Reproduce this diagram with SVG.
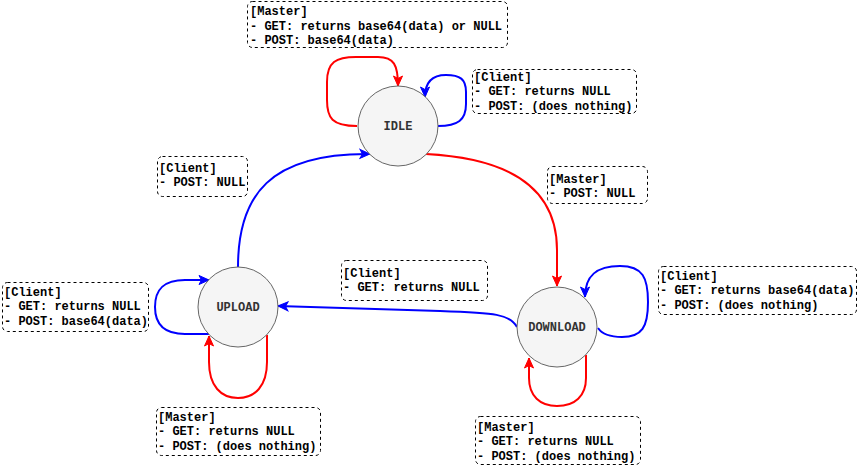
<svg xmlns="http://www.w3.org/2000/svg" width="858" height="466" viewBox="0 0 858 466">
<style>
.bg{fill:#ffffff}
.state{fill:#f5f5f5;stroke:#666666;stroke-width:1}
.slabel{font-family:"Liberation Mono","Courier New",monospace;font-weight:bold;font-size:12px;fill:#333333;text-anchor:middle}
.note{fill:#ffffff;stroke:#000000;stroke-width:1;stroke-dasharray:3 3}
.ntext{font-family:"Liberation Mono","Courier New",monospace;font-weight:bold;font-size:12px;fill:#000000}
.red{fill:none;stroke:#ff0000;stroke-width:2;marker-end:url(#ar)}
.blue{fill:none;stroke:#0000ff;stroke-width:2;marker-end:url(#ab)}
</style>
<defs>
<marker id="ar" markerUnits="userSpaceOnUse" markerWidth="12" markerHeight="12" viewBox="0 0 12 12" refX="11" refY="6" orient="auto">
<path d="M1,1.5 L11,6 L1,10.5 L3.5,6 Z" fill="#ff0000" stroke="#ff0000" stroke-width="1"/>
</marker>
<marker id="ab" markerUnits="userSpaceOnUse" markerWidth="12" markerHeight="12" viewBox="0 0 12 12" refX="11" refY="6" orient="auto">
<path d="M1,1.5 L11,6 L1,10.5 L3.5,6 Z" fill="#0000ff" stroke="#0000ff" stroke-width="1"/>
</marker>
</defs>
<rect class="bg" x="0" y="0" width="858" height="466"/>

<g id="connectors">
<path id="e-idle-self-master" class="red" d="M357,126 C332,126 327,118 327,100 L327,82 C327,62 336,57 356,57 L378,57 C394,57 398,65 398,86"/>
<path id="e-idle-self-client" class="blue" d="M438,126 C458,126 466,120 466,104 L466,92 C466,79 460,75 446,75 C432,75 425,83 425,97"/>
<path id="e-idle-download" class="red" d="M426,154 C505,158 557,185 557,250 L557,286"/>
<path id="e-upload-idle" class="blue" d="M238,267 C238,195 270,153 370,154"/>
<path id="e-download-upload" class="blue" d="M517,327 C510,314 495,313 440,311 L278,306"/>
<path id="e-upload-self-client" class="blue" d="M209,334 L185,334 C162,334 155,322 155,307 C155,290 163,280 185,280 L209,280"/>
<path id="e-upload-self-master" class="red" d="M267,335 L267,362 C267,386 255,398 238,398 C221,398 209,386 209,362 L209,336"/>
<path id="e-download-self-client" class="blue" d="M598,328 C602,334 609,337 622,337 C642,337 648,327 648,302 C648,278 643,266 620,266 C597,266 585,275 585,297"/>
<path id="e-download-self-master" class="red" d="M586,355 L586,378 C586,396 575,406 557,406 C540,406 529,396 529,378 L529,358"/>
</g>

<g id="idle">
<circle class="state" cx="398" cy="126" r="40"/>
<text class="slabel" x="398" y="130">IDLE</text>
</g>
<g id="upload">
<circle class="state" cx="238" cy="307" r="40"/>
<text class="slabel" x="238" y="311">UPLOAD</text>
</g>
<g id="download">
<circle class="state" cx="557" cy="327" r="40"/>
<text class="slabel" x="557" y="331">DOWNLOAD</text>
</g>

<g id="note-idle-master">
<rect class="note" x="247.5" y="1.5" width="260" height="46" rx="5"/>
<text class="ntext" x="250" y="15">[Master]</text>
<text class="ntext" x="250" y="29.5">- GET: returns base64(data) or NULL</text>
<text class="ntext" x="250" y="44">- POST: base64(data)</text>
</g>
<g id="note-idle-client">
<rect class="note" x="472.5" y="69.5" width="164" height="44" rx="5"/>
<text class="ntext" x="474" y="81">[Client]</text>
<text class="ntext" x="474" y="95.4">- GET: returns NULL</text>
<text class="ntext" x="474" y="109.8">- POST: (does nothing)</text>
</g>
<g id="note-upload-idle">
<rect class="note" x="157.5" y="156.5" width="90" height="40" rx="5"/>
<text class="ntext" x="159" y="172">[Client]</text>
<text class="ntext" x="159" y="186.4">- POST: NULL</text>
</g>
<g id="note-idle-download">
<rect class="note" x="547.5" y="166.5" width="100" height="37" rx="5"/>
<text class="ntext" x="549" y="183">[Master]</text>
<text class="ntext" x="549" y="197.4">- POST: NULL</text>
</g>
<g id="note-upload-client">
<rect class="note" x="2.5" y="282.5" width="146" height="49" rx="5"/>
<text class="ntext" x="4" y="296">[Client]</text>
<text class="ntext" x="4" y="310.4">- GET: returns NULL</text>
<text class="ntext" x="4" y="324.8">- POST: base64(data)</text>
</g>
<g id="note-download-upload">
<rect class="note" x="341.5" y="260.5" width="146" height="40" rx="5"/>
<text class="ntext" x="343" y="277">[Client]</text>
<text class="ntext" x="343" y="291.4">- GET: returns NULL</text>
</g>
<g id="note-download-client">
<rect class="note" x="658.5" y="266.5" width="198" height="48" rx="5"/>
<text class="ntext" x="660" y="280">[Client]</text>
<text class="ntext" x="660" y="294.4">- GET: returns base64(data)</text>
<text class="ntext" x="660" y="308.8">- POST: (does nothing)</text>
</g>
<g id="note-upload-master">
<rect class="note" x="156.5" y="407.5" width="164" height="48" rx="5"/>
<text class="ntext" x="158" y="421">[Master]</text>
<text class="ntext" x="158" y="435.4">- GET: returns NULL</text>
<text class="ntext" x="158" y="449.8">- POST: (does nothing)</text>
</g>
<g id="note-download-master">
<rect class="note" x="475.5" y="416.5" width="165" height="48" rx="5"/>
<text class="ntext" x="477" y="431">[Master]</text>
<text class="ntext" x="477" y="445.4">- GET: returns NULL</text>
<text class="ntext" x="477" y="459.8">- POST: (does nothing)</text>
</g>
</svg>
